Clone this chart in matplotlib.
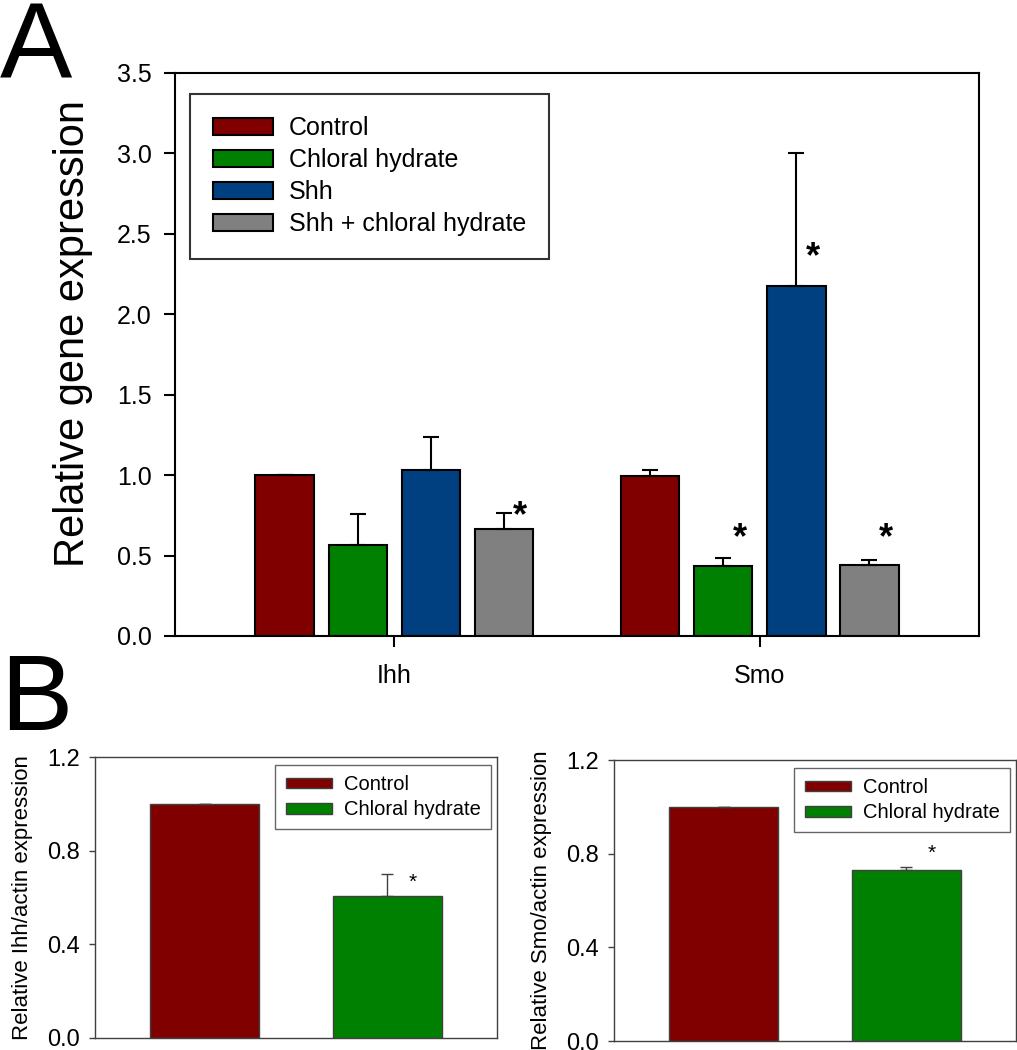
import numpy as np
import matplotlib
matplotlib.use("Agg")
import matplotlib.pyplot as plt

plt.rcParams["font.family"] = ["Liberation Sans", "DejaVu Sans"]

# ── Panel A data ──────────────────────────────────────────────
genes = ["Ihh", "Smo"]
groups = ["Control", "Chloral hydrate", "Shh", "Shh + chloral hydrate"]
colors = ["#800000", "#008000", "#004080", "#808080"]
means = [
    [1.00, 0.995],   # Control
    [0.565, 0.435],  # Chloral hydrate
    [1.03, 2.175],   # Shh
    [0.667, 0.44],   # Shh + chloral hydrate
]
errs = [
    [0.0, 0.035],
    [0.195, 0.052],
    [0.205, 0.83],
    [0.10, 0.035],
]
# significance marks: (gene index, group index, height)
stars_a = [(0, 3, 0.74), (1, 1, 0.605), (1, 2, 2.35), (1, 3, 0.605)]

# ── Panel B data ──────────────────────────────────────────────
b_groups = ["Control", "Chloral hydrate"]
b_colors = ["#800000", "#008000"]
ihh_means = [1.0, 0.607]
ihh_errs = [0.0, 0.093]
smo_means = [1.0, 0.731]
smo_errs = [0.0, 0.014]
ihh_star = 0.665
smo_star = 0.80

fig = plt.figure(figsize=(10.17, 10.5), dpi=100)

# ── Panel A ───────────────────────────────────────────────────
ax = fig.add_axes([0.1721, 0.3943, 0.7906, 0.5362])
x = np.arange(1, len(genes) + 1)
width = 0.16
offsets = [-0.3, -0.1, 0.1, 0.3]
for i, grp in enumerate(groups):
    ax.bar(x + offsets[i], means[i], width, color=colors[i], edgecolor="black",
           linewidth=1.5, label=grp, zorder=2)
    ax.errorbar(x + offsets[i], means[i], yerr=[np.zeros(len(genes)), errs[i]],
                fmt="none", ecolor="black", elinewidth=1.5, capsize=6,
                capthick=1.5, zorder=3)
for g, k, h in stars_a:
    ax.text(x[g] + offsets[k] + 0.045, h, "*", fontsize=26, fontweight="bold",
            ha="center", va="center")

ax.set_xlim(0.4, 2.6)
ax.set_ylim(0, 3.5)
ax.set_yticks(np.arange(0, 3.51, 0.5))
ax.set_yticklabels([f"{v:.1f}" for v in np.arange(0, 3.51, 0.5)])
ax.set_xticks(x)
ax.set_xticklabels(genes)
ax.tick_params(axis="both", direction="out", length=8, width=1.5,
               labelsize=18, pad=9)
ax.tick_params(axis="x", pad=12)
for s in ax.spines.values():
    s.set_linewidth(1.5)
ax.set_ylabel("Relative gene expression", fontsize=30)
ax.yaxis.set_label_coords(-0.102, 0.538)
leg = ax.legend(loc="upper left", bbox_to_anchor=(0.0187, 0.9627),
                borderaxespad=0, fontsize=18, frameon=True, fancybox=False,
                edgecolor="black", handlelength=2.4, handleheight=0.65,
                handletextpad=0.65, labelspacing=0.32, borderpad=0.9)
leg.get_frame().set_linewidth(1.5)

fig.text(0.0, 1.0, "A", fontsize=78, ha="left", va="top")
fig.text(0.0, 0.379, "B", fontsize=78, ha="left", va="top")


# ── Panel B ───────────────────────────────────────────────────
def panel_b(rect, vals, err, star_h, ylabel):
    bx = fig.add_axes(rect)
    xb = np.arange(len(b_groups))
    bx.bar(xb, vals, 0.6, color=b_colors, edgecolor="#404040", linewidth=1,
           label=b_groups, zorder=2)
    bx.errorbar(xb, vals, yerr=[np.zeros(len(vals)), err], fmt="none",
                ecolor="#404040", elinewidth=1, capsize=4, capthick=1, zorder=3)
    bx.text(xb[1] + 0.14, star_h, "*", fontsize=15, ha="center", va="center")
    bx.set_xlim(-0.6, 1.6)
    bx.set_ylim(0, 1.2)
    bx.set_yticks([0, 0.4, 0.8, 1.2])
    bx.set_yticklabels(["0.0", "0.4", "0.8", "1.2"])
    bx.set_xticks([])
    bx.tick_params(axis="y", direction="out", length=4, width=1,
                   color="#404040", labelsize=17, pad=7)
    for s in bx.spines.values():
        s.set_linewidth(1)
        s.set_color("#404040")
    bx.set_ylabel(ylabel, fontsize=16)
    bx.yaxis.set_label_coords(-0.154, 0.5)
    lg = bx.legend(loc="upper left", bbox_to_anchor=(0.449, 0.971),
                   borderaxespad=0, fontsize=14.5, frameon=True, fancybox=False,
                   edgecolor="#404040", handlelength=2.3, handleheight=0.45,
                   handletextpad=0.6, labelspacing=0.3, borderpad=0.5)
    lg.get_frame().set_linewidth(1)
    return bx


panel_b([0.0934, 0.01143, 0.3953, 0.2676], ihh_means, ihh_errs, ihh_star,
        "Relative Ihh/actin expression")
panel_b([0.6037, 0.00857, 0.3953, 0.2676], smo_means, smo_errs, smo_star,
        "Relative Smo/actin expression")

fig.savefig("out.png", dpi=100)
